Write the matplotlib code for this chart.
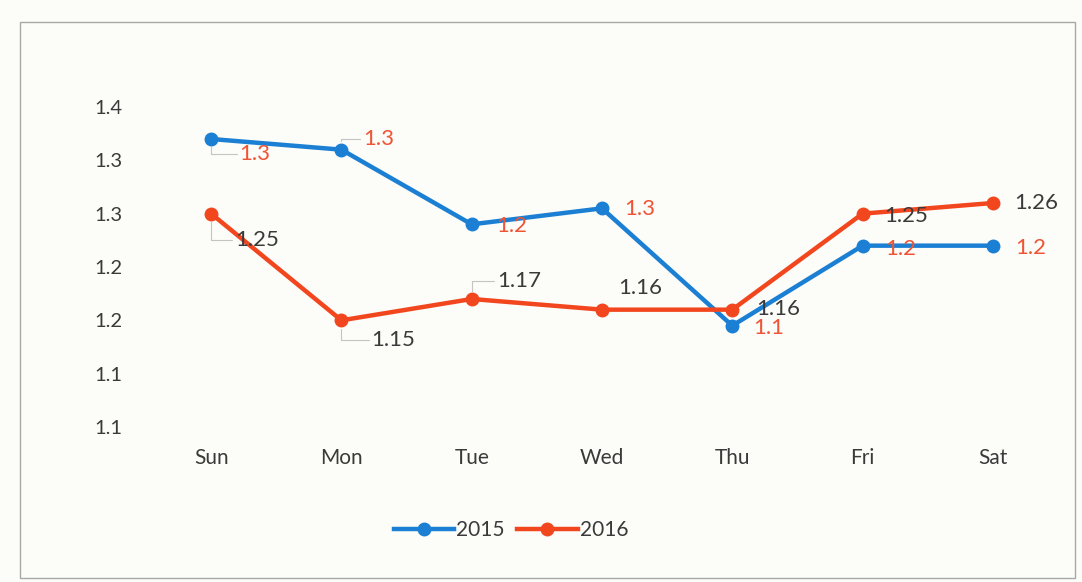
import matplotlib
matplotlib.use("Agg")
import matplotlib.pyplot as plt
from matplotlib.patches import Rectangle
from matplotlib.lines import Line2D

days = ["Sun", "Mon", "Tue", "Wed", "Thu", "Fri", "Sat"]
s2015 = [1.32, 1.31, 1.24, 1.255, 1.145, 1.22, 1.22]
s2016 = [1.25, 1.15, 1.17, 1.16, 1.16, 1.25, 1.26]
yticks = [1.05, 1.10, 1.15, 1.20, 1.25, 1.30, 1.35]
ytick_labels = ["1.1", "1.1", "1.2", "1.2", "1.3", "1.3", "1.4"]

# label offsets in pixels (dx, dy) and whether a leader line is drawn
off2015 = [(44, -15), (37, 11), (40, -2), (38, -1), (36, -2), (38, -3), (38, -2)]
lead2015 = [True, True, False, False, False, False, False]
off2016 = [(46, -26), (52, -20), (47, 18), (38, 22), (46, 1), (44, -2), (43, 0)]
lead2016 = [True, True, True, False, False, False, False]

BLUE = "#1b7fd3"
RED = "#f2471e"
LBL_RED = "#ef5535"
TXT = "#3a3a3a"
BG = "#fcfcf8"

plt.rcParams['font.family'] = ['Lato', 'DejaVu Sans']

fig = plt.figure(figsize=(10.82, 5.82), dpi=100, facecolor=BG)
ax = fig.add_axes([146/1082, 1-427/582, (1058-146)/1082, (427-107)/582])
ax.set_facecolor(BG)

x = list(range(len(days)))
ax.plot(x, s2015, color=BLUE, lw=3.2, marker="o", ms=9, label="2015", zorder=3, solid_capstyle="round")
ax.plot(x, s2016, color=RED, lw=3.2, marker="o", ms=9, label="2016", zorder=4, solid_capstyle="round")

ax.set_xlim(-0.5, len(days) - 0.5)
ax.set_ylim(1.05, 1.35)
ax.set_yticks(yticks)
ax.set_yticklabels(ytick_labels)
ax.set_xticks(x)
ax.set_xticklabels(days)
ax.tick_params(axis="y", length=0, labelsize=14.5, colors=TXT, pad=17)
ax.tick_params(axis="x", length=0, labelsize=15, colors=TXT, pad=15)
for sp in ax.spines.values():
    sp.set_visible(False)

def label(xi, yi, txt, off, lead, color):
    kw = {}
    if lead:
        kw["arrowprops"] = dict(arrowstyle="-", color="#c4c4c4", lw=0.8,
                                shrinkA=0, shrinkB=6,
                                connectionstyle="angle,angleA=0,angleB=90,rad=0")
    ax.annotate(txt, (xi, yi), xytext=off, textcoords="offset pixels",
                ha="center", va="center", fontsize=16, color=color, zorder=6, **kw)

for i, v in enumerate(s2015):
    label(i, v, f"{v:.1f}", off2015[i], lead2015[i], LBL_RED)
for i, v in enumerate(s2016):
    label(i, v, f"{v:.2f}", off2016[i], lead2016[i], TXT)

handles = [Line2D([], [], color=BLUE, lw=3.2, marker="o", ms=9),
           Line2D([], [], color=RED, lw=3.2, marker="o", ms=9)]
fig.legend(handles, ["2015", "2016"], loc="center", bbox_to_anchor=(511/1082, 1-530/582),
           ncol=2, frameon=False, fontsize=15, handlelength=2.9, handletextpad=0.1,
           columnspacing=0.6, labelcolor=TXT)

fig.patches.append(Rectangle((20/1082, 1-578/582), (1075-20)/1082, (578-22)/582,
                             transform=fig.transFigure, fill=False, edgecolor="#a8a8a8", lw=1.0))

fig.savefig("out.png", dpi=100, facecolor=BG)
